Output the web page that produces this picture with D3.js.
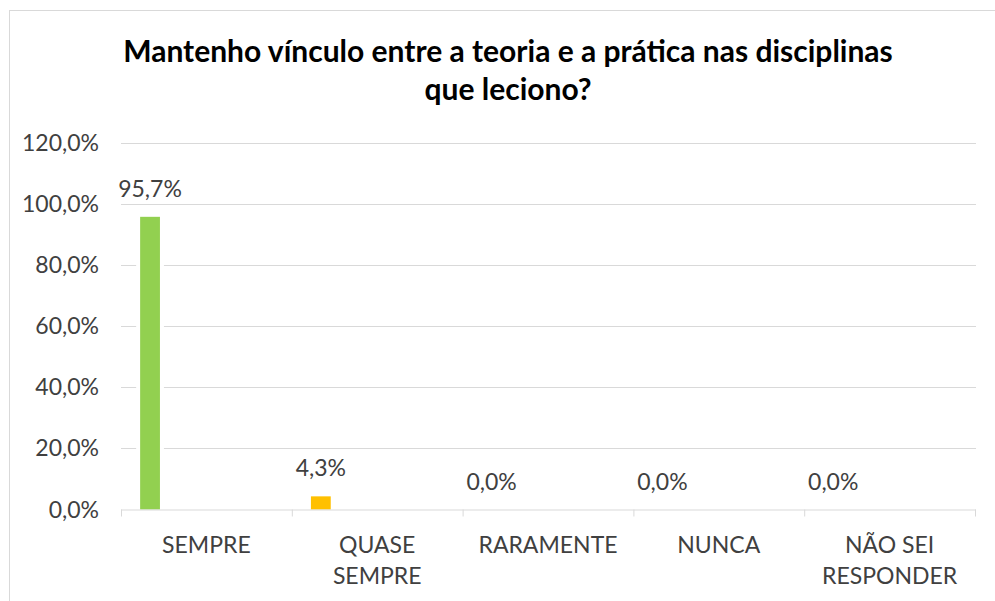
<html>
<head>
    <style>
        body { margin: 0; background: #fff; }
        text { font-family: Lato, "Open Sans", sans-serif; }
        .grid line { stroke: #d9d9d9; }
        .tick-label, .cat-label, .data-label { fill: #404040; font-size: 23px; }
        .title { fill: #000; font-size: 30px; font-weight: bold; }
    </style>
</head>
<body>
    <svg id="container" width="995" height="601"></svg>
</body>
<script src="https://cdn.jsdelivr.net/npm/d3@7"></script>
<script>
    // data
    let categories = ["SEMPRE", "QUASE SEMPRE", "RARAMENTE", "NUNCA", "NÃO SEI RESPONDER"]
    let catLines = [["SEMPRE"], ["QUASE", "SEMPRE"], ["RARAMENTE"], ["NUNCA"], ["NÃO SEI", "RESPONDER"]]
    let values = [0.957, 0.043, 0, 0, 0]
    let barColors = ["#92d050", "#ffc000", "#5b9bd5", "#ed7d31", "#a5a5a5"]
    let yTicks = [0, 0.2, 0.4, 0.6, 0.8, 1.0, 1.2]
    let titleLines = ["Mantenho vínculo entre a teoria e a prática nas disciplinas", "que leciono?"]

    let svg = d3.select("#container")

    // chart frame (only top/left edges show in the crop)
    svg.append("rect")
        .attr("x", 9.5).attr("y", 10.5)
        .attr("width", 1000).attr("height", 600)
        .attr("fill", "none").attr("stroke", "#d9d9d9")

    let plotLeft = 121, plotRight = 975, plotTop = 142.5, plotBottom = 509.5

    let x = d3.scaleBand().domain(categories).range([plotLeft, plotRight])
    let y = d3.scaleLinear().domain([0, 1.2]).range([plotBottom, plotTop])
    let fmt = v => d3.format(".1f")(v * 100).replace(".", ",") + "%"

    // title
    svg.append("g").selectAll("text").data(titleLines)
        .enter().append("text")
        .attr("class", "title")
        .attr("x", 508)
        .attr("y", (d, i) => 62 + i * 38)
        .attr("text-anchor", "middle")
        .text(d => d)

    // gridlines
    svg.append("g").attr("class", "grid")
        .selectAll("line").data(yTicks.slice(1))
        .enter().append("line")
        .attr("x1", plotLeft).attr("x2", plotRight + 1)
        .attr("y1", d => Math.round(y(d)) + 0.5)
        .attr("y2", d => Math.round(y(d)) + 0.5)

    // y tick labels
    svg.append("g").selectAll("text").data(yTicks)
        .enter().append("text")
        .attr("class", "tick-label")
        .attr("x", 99)
        .attr("y", d => y(d) + 8)
        .attr("text-anchor", "end")
        .text(fmt)

    // bars, with a white halo that cuts the gridlines
    let bw = x.bandwidth()
    let barX = d => x(d) + bw * 0.112
    let barW = bw * 0.116
    let bars = svg.append("g")
    bars.selectAll("rect.halo").data(categories)
        .enter().append("rect")
        .attr("class", "halo")
        .attr("x", d => barX(d) - 4)
        .attr("width", barW + 8)
        .attr("y", (d, i) => y(values[i]))
        .attr("height", (d, i) => plotBottom - y(values[i]))
        .attr("fill", "#fff")
    bars.selectAll("rect.bar").data(categories)
        .enter().append("rect")
        .attr("class", "bar")
        .attr("x", barX)
        .attr("width", barW)
        .attr("y", (d, i) => y(values[i]))
        .attr("height", (d, i) => plotBottom - y(values[i]))
        .attr("fill", (d, i) => barColors[i])

    // category axis line + ticks
    let axis = svg.append("g").attr("stroke", "#d9d9d9").attr("fill", "none")
    axis.append("line")
        .attr("x1", plotLeft).attr("x2", plotRight + 1)
        .attr("y1", plotBottom + 0.5).attr("y2", plotBottom + 0.5)
    axis.selectAll("line.tk").data(categories.concat(["end"]))
        .enter().append("line")
        .attr("class", "tk")
        .attr("x1", (d, i) => plotLeft + i * bw + 0.5)
        .attr("x2", (d, i) => plotLeft + i * bw + 0.5)
        .attr("y1", plotBottom).attr("y2", plotBottom + 7)

    // data labels
    svg.append("g").selectAll("text").data(categories)
        .enter().append("text")
        .attr("class", "data-label")
        .attr("x", d => barX(d) + barW / 2)
        .attr("y", (d, i) => y(values[i]) - 20)
        .attr("text-anchor", "middle")
        .text((d, i) => fmt(values[i]))

    // category labels
    let cats = svg.append("g").selectAll("text").data(categories)
        .enter().append("text")
        .attr("class", "cat-label")
        .attr("text-anchor", "middle")
    cats.selectAll("tspan").data((d, i) => catLines[i].map(t => ({ t: t, c: d })))
        .enter().append("tspan")
        .attr("x", d => x(d.c) + bw / 2)
        .attr("y", (d, i) => 553 + i * 31)
        .text(d => d.t)
</script>
</html>
